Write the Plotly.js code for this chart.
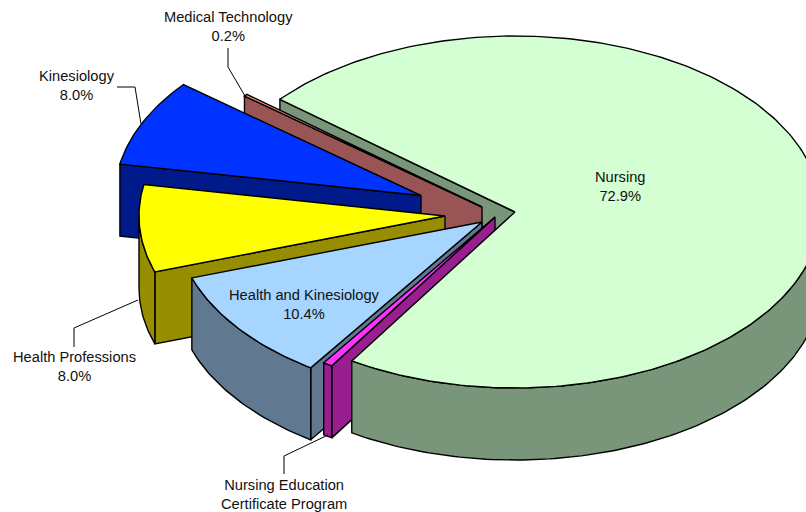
<!DOCTYPE html>
<html><head><meta charset="utf-8">
<script src="https://cdn.plot.ly/plotly-3.0.1.min.js"></script>
<style>html,body{margin:0;padding:0;background:#fff}#c{width:806px;height:512px}</style>
</head><body><div id="c"></div>
<script>
// Data, clockwise from the start angle
const categories = ["Nursing","Nursing Education Certificate Program","Health and Kinesiology","Health Professions","Kinesiology","Medical Technology"];
const values = [72.9,0.5,10.4,8.0,8.0,0.2];
// Styles
const topColors  = ["#D3FFD3","#FF33FF","#A6D5FF","#FFFF00","#0033FF","#FF8A80"];
const wallColors = ["#7A967A","#991F8F","#607890","#968E00","#001A8C","#995555"];
// Exploded apex of each slice
const apexX = [515,495,482,445,421,482];
const apexY = [212,217,222,216,195.5,207];
// Labels
const labelText = ["Nursing<br>72.9%","Nursing Education<br>Certificate Program","Health and Kinesiology<br>10.4%","Health Professions<br>8.0%","Kinesiology<br>8.0%","Medical Technology<br>0.2%"];
const labelX = [620,284,304,74,77,228];
const labelY = [186.5,494.5,304.5,366.5,85.5,26.5];
const leaderX = [[117,135,141],[284,284,328],[74,74,138],[228,228,245]];
const leaderY = [[87,87,124],[474,456,435],[347,328,300],[48,67,96]];
// Projection
const startAngle = 140.2, rx = 306, ry = 176, depth = 72;

const total = values.reduce((a,b)=>a+b,0);
let cum = startAngle;
const slices = values.map((v,i)=>{const a0=cum; cum-=v/total*360; return {i,a0,a1:cum};});
const rad = d=>d*Math.PI/180;
const pt = (s,a,d=0)=>[apexX[s.i]+rx*Math.cos(rad(a)), apexY[s.i]-ry*Math.sin(rad(a))+d];
function arc(s,from,to,d=0){
  const n=Math.max(2,Math.ceil(Math.abs(to-from)));const out=[];
  for(let k=0;k<=n;k++)out.push(pt(s,from+(to-from)*k/n,d));
  return out;
}
const poly=(pts,fill)=>({type:"scatter",mode:"lines",x:pts.map(p=>p[0]).concat(pts[0][0]),y:pts.map(p=>p[1]).concat(pts[0][1]),
  fill:"toself",fillcolor:fill,line:{color:"#000",width:1.4},hoverinfo:"skip",showlegend:false});
const apex=(s,d=0)=>[apexX[s.i],apexY[s.i]+d];
const topFace=s=>poly([apex(s),...arc(s,s.a0,s.a1)],topColors[s.i]);
const radial=s=>poly([apex(s),pt(s,s.a0),pt(s,s.a0,depth),apex(s,depth)],wallColors[s.i]);
function outer(s){ // visible front part of the rim: angles 180..360
  let hi=s.a0, lo=s.a1;
  while(lo<0){lo+=360;hi+=360;}
  const f=Math.max(lo,180), t=Math.min(hi,360);
  if(t<=f) return [];
  return [poly([...arc(s,f,t),...arc(s,t,f,depth)],wallColors[s.i])];
}
const [N,NE,HK,HP,K,M]=slices;
const traces=[
  radial(N),
  radial(M), topFace(M),
  radial(K), topFace(K),
  radial(HP), ...outer(HP), topFace(HP),
  radial(HK), ...outer(HK), topFace(HK),
  radial(NE), ...outer(NE), topFace(NE),
  ...outer(N), topFace(N)
];
// Leader lines
leaderX.forEach((xs,i)=>traces.push({type:"scatter",mode:"lines",x:xs,y:leaderY[i],line:{color:"#000",width:1},hoverinfo:"skip",showlegend:false}));
const layout={
  width:806,height:512,margin:{l:0,r:0,t:0,b:0},paper_bgcolor:"#fff",plot_bgcolor:"#fff",showlegend:false,
  xaxis:{range:[0,806],visible:false,fixedrange:true},
  yaxis:{range:[512,0],visible:false,fixedrange:true},
  annotations:labelText.map((t,i)=>({x:labelX[i],y:labelY[i],text:t,showarrow:false,xanchor:"center",yanchor:"middle",
    font:{family:"Liberation Sans, Arial, sans-serif",size:14.67,color:"#111"}}))
};
Plotly.newPlot("c",traces,layout,{displayModeBar:false,staticPlot:true});
</script></body></html>
